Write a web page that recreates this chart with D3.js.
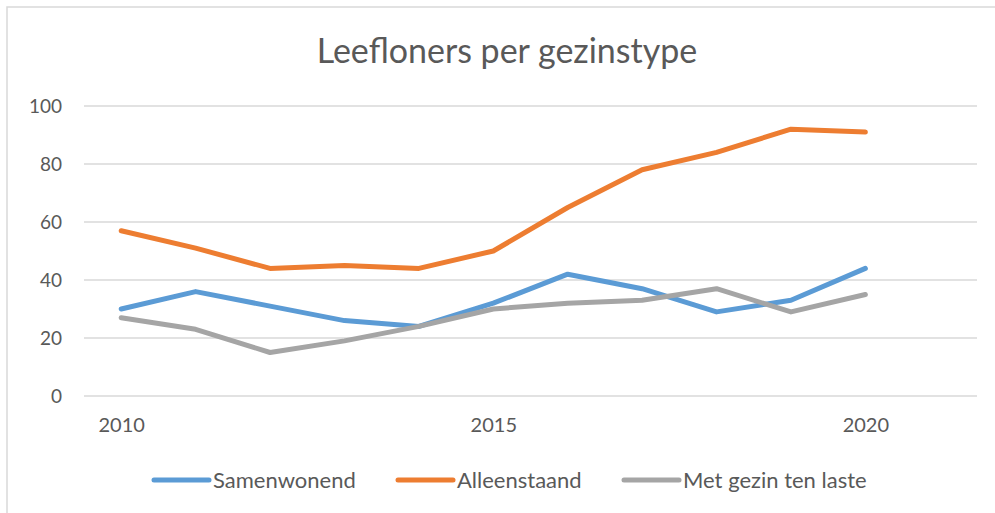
<!DOCTYPE html>
<html>
<head>
<meta charset="utf-8">
<script src="https://cdn.jsdelivr.net/npm/d3@7"></script>
<style>
  body { margin: 0; background: #fff; }
  text { font-family: Lato, "Open Sans", sans-serif; fill: #595959; }
</style>
</head>
<body>
<div id="chart"></div>
<script>
var years = [2010, 2011, 2012, 2013, 2014, 2015, 2016, 2017, 2018, 2019, 2020];
var samenwonend = [30, 36, 31, 26, 24, 32, 42, 37, 29, 33, 44];
var alleenstaand = [57, 51, 44, 45, 44, 50, 65, 78, 84, 92, 91];
var metGezin = [27, 23, 15, 19, 24, 30, 32, 33, 37, 29, 35];
var seriesNames = ["Samenwonend", "Alleenstaand", "Met gezin ten laste"];
var seriesColors = ["#5b9bd5", "#ed7d31", "#a5a5a5"];
var yTicks = [0, 20, 40, 60, 80, 100];
var xTicks = [2010, 2015, 2020];

var width = 995, height = 513;
var margin = { top: 106, right: 18, bottom: 117, left: 84 };

var svg = d3.select("#chart").append("svg")
    .attr("width", width)
    .attr("height", height);

// chart frame
svg.append("rect")
    .attr("x", 7).attr("y", 7)
    .attr("width", width + 10).attr("height", height + 10)
    .attr("fill", "none")
    .attr("stroke", "#d9d9d9")
    .attr("stroke-width", 1.5);

svg.append("text")
    .attr("x", 507).attr("y", 63)
    .attr("text-anchor", "middle")
    .attr("font-size", 34)
    .text("Leefloners per gezinstype");

var x = d3.scaleLinear()
    .domain([2009.5, 2021.5])
    .range([margin.left, width - margin.right]);
var y = d3.scaleLinear()
    .domain([0, 100])
    .range([height - margin.bottom, margin.top]);

// gridlines
svg.append("g")
    .selectAll("line")
    .data(yTicks)
    .enter().append("line")
    .attr("x1", x.range()[0])
    .attr("x2", x.range()[1])
    .attr("y1", function (d) { return y(d); })
    .attr("y2", function (d) { return y(d); })
    .attr("stroke", "#d9d9d9")
    .attr("stroke-width", 1.5);

var yAxis = svg.append("g")
    .attr("transform", "translate(" + (margin.left - 22) + ",0)")
    .call(d3.axisLeft(y).tickValues(yTicks).tickSize(0).tickPadding(0));
yAxis.select(".domain").remove();
yAxis.selectAll("text").attr("font-size", 19).attr("dy", "0.36em");

var xAxis = svg.append("g")
    .attr("transform", "translate(0," + (height - margin.bottom) + ")")
    .call(d3.axisBottom(x).tickValues(xTicks).tickFormat(d3.format("d")).tickSize(0).tickPadding(22));
xAxis.select(".domain").remove();
xAxis.selectAll("text").attr("font-size", 20);

var allSeries = [samenwonend, alleenstaand, metGezin];
var line = d3.line()
    .x(function (d, i) { return x(years[i]); })
    .y(function (d) { return y(d); });

svg.append("g")
    .selectAll("path")
    .data(allSeries)
    .enter().append("path")
    .attr("d", line)
    .attr("fill", "none")
    .attr("stroke", function (d, i) { return seriesColors[i]; })
    .attr("stroke-width", 5)
    .attr("stroke-linecap", "round")
    .attr("stroke-linejoin", "round");

// legend
var legendX = [154, 398, 624];
var legend = svg.append("g").selectAll("g")
    .data(seriesNames)
    .enter().append("g")
    .attr("transform", function (d, i) { return "translate(" + legendX[i] + ",480)"; });
legend.append("line")
    .attr("x1", 0).attr("x2", 55)
    .attr("stroke", function (d, i) { return seriesColors[i]; })
    .attr("stroke-width", 5)
    .attr("stroke-linecap", "round");
legend.append("text")
    .attr("x", 59)
    .attr("dy", "0.36em")
    .attr("font-size", 22)
    .text(function (d) { return d; });
</script>
</body>
</html>
